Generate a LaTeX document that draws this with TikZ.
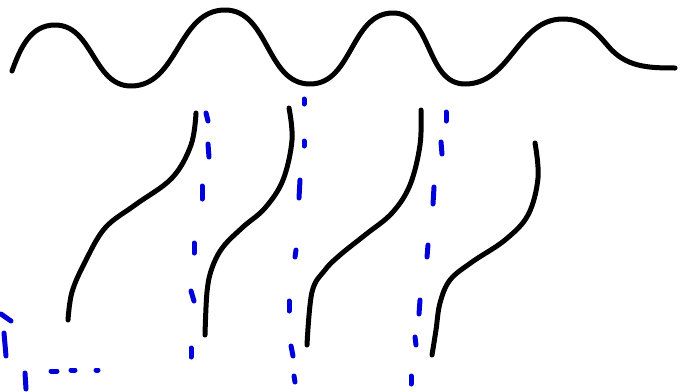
\documentclass[tikz,border=0pt]{standalone}
\begin{document}
\begin{tikzpicture}[x=1pt,y=-1pt,
  ink/.style={line width=5pt,line cap=round,line join=round,black},
  bdash/.style={line width=5pt,line cap=round,blue!85!black}]
\useasboundingbox (0,0) rectangle (684,391);
% wave
\draw[ink] (12,71) to[out=70,in=180] (55,25) to[out=0,in=180] (131,86)
  to[out=0,in=180] (225,10) to[out=0,in=180] (310,84)
  to[out=0,in=180] (393,13) to[out=0,in=180] (465,84)
  to[out=0,in=180] (563,19) to[out=0,in=130] (608,46) to[out=-50,in=180] (675,68);
% S curves
\draw[ink] plot[smooth,tension=0.6] coordinates {(196,113) (191,145) (172,178) (135,205) (105,228) (85,262) (72,292) (68,320)};
\draw[ink] plot[smooth,tension=0.6] coordinates {(289,108) (292,140) (283,180) (265,208) (243,227) (223,247) (212,268) (207,292) (205,335)};
\draw[ink] plot[smooth,tension=0.6] coordinates {(421,110) (420,145) (410,185) (392,213) (365,235) (340,255) (325,270) (312,292) (307,345)};
\draw[ink] plot[smooth,tension=0.6] coordinates {(535,143) (538,178) (528,215) (505,240) (472,262) (450,280) (440,303) (436,330) (432,355)};
% blue dashes 1
\draw[bdash] (206,113) -- (208,121);
\draw[bdash] (208,144) -- (209,157);
\draw[bdash] (202,186) -- (202,199);
\draw[bdash] (194,243) -- (194,253);
\draw[bdash] (191,291) -- (194,301);
\draw[bdash] (191,348) -- (191,357);
% blue dashes 2
\draw[bdash] (304,99) -- (304,104);
\draw[bdash] (304,141) -- (304,146);
\draw[bdash] (300,180) -- (299,198);
\draw[bdash] (296,250) -- (295,257);
\draw[bdash] (289,301) -- (289,311);
\draw[bdash] (291,346) -- (293,356);
\draw[bdash] (294,376) -- (295,382);
% blue dashes 3
\draw[bdash] (446,112) -- (446,121);
\draw[bdash] (441,142) -- (442,154);
\draw[bdash] (434,187) -- (433,204);
\draw[bdash] (428,245) -- (427,257);
\draw[bdash] (420,300) -- (419,314);
\draw[bdash] (415,337) -- (416,345);
\draw[bdash] (411,376) -- (411,384);
% bottom left
\draw[bdash] (1,314) -- (11,321);
\draw[bdash] (4,333) -- (6,356);
\draw[bdash] (25,373) -- (26,389);
\draw[bdash] (51,371) -- (57,371);
\draw[bdash] (71,370) -- (75,370);
\draw[bdash] (96,370) -- (98,370);
\end{tikzpicture}
\end{document}
